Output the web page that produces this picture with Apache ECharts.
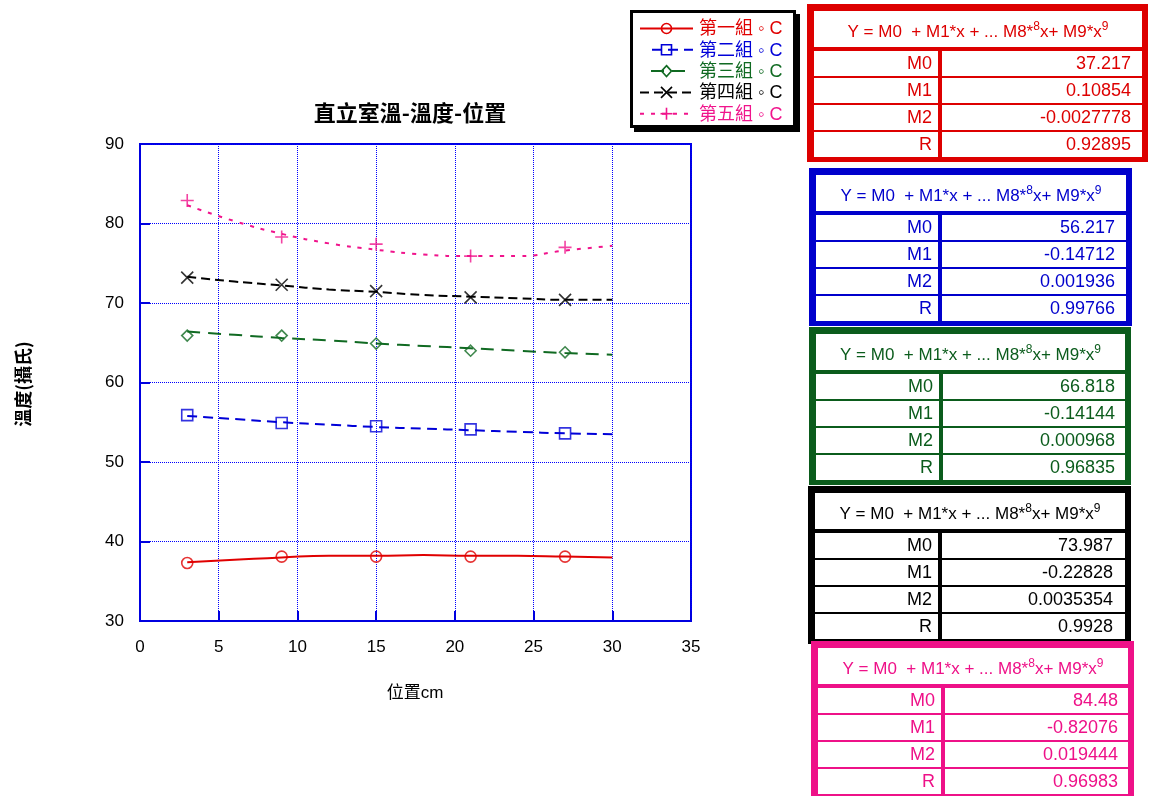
<!DOCTYPE html>
<html>
<head>
<meta charset="utf-8">
<script src="https://cdn.jsdelivr.net/npm/echarts@6/dist/echarts.min.js"></script>
<style>
  html, body { margin: 0; padding: 0; background: #fff; }
  #chart { width: 1152px; height: 796px; }
</style>
</head>
<body>
<div id="chart"></div>
<script>
// ---- data ----
const groupNames = ['第一組', '第二組', '第三組', '第四組', '第五組'];
const sampleX = [3, 9, 15, 21, 27];              // measuring positions (cm)
const g1Measured = [37.3, 38.1, 38.1, 38.1, 38.1];
const g2Measured = [55.9, 54.9, 54.5, 54.1, 53.6];
const g3Measured = [65.9, 65.9, 64.9, 64.0, 63.8];
const g4Measured = [73.2, 72.3, 71.5, 70.7, 70.4];
const g5Measured = [82.9, 78.3, 77.4, 75.9, 77.0];

// fitted curves
const fitX = [3, 6, 9, 12, 15, 18, 21, 24, 27, 30];
const g1Fit = [37.4, 37.7, 38.0, 38.2, 38.2, 38.3, 38.2, 38.2, 38.1, 38.0];
const g2Fit = [55.8, 55.4, 55.0, 54.7, 54.4, 54.2, 54.0, 53.8, 53.6, 53.5];
const g3Fit = [66.4, 66.0, 65.6, 65.3, 64.9, 64.6, 64.3, 64.0, 63.7, 63.5];
const g4Fit = [73.3, 72.7, 72.2, 71.7, 71.4, 71.0, 70.8, 70.6, 70.4, 70.4];
const g5Fit = [82.3, 80.3, 78.7, 77.5, 76.7, 76.1, 75.9, 75.9, 76.6, 77.2];

// regression coefficients
const coefLabels = ['M0', 'M1', 'M2', 'R'];
const g1Coef = ['37.217', '0.10854', '-0.0027778', '0.92895'];
const g2Coef = ['56.217', '-0.14712', '0.001936', '0.99766'];
const g3Coef = ['66.818', '-0.14144', '0.000968', '0.96835'];
const g4Coef = ['73.987', '-0.22828', '0.0035354', '0.9928'];
const g5Coef = ['84.48', '-0.82076', '0.019444', '0.96983'];

const xTicks = { min: 0, max: 35, step: 5 };
const yTicks = { min: 30, max: 90, step: 10 };

// ---- styles ----
const FONT = "'Liberation Sans', Arial, 'Noto Sans CJK TC', sans-serif";
const CJK = "'Noto Sans CJK TC', 'Noto Sans CJK SC', sans-serif";
const AXIS_BLUE = '#0000e0';
const GRID_BLUE = '#0000ff';

const measured = [g1Measured, g2Measured, g3Measured, g4Measured, g5Measured];
const fits = [g1Fit, g2Fit, g3Fit, g4Fit, g5Fit];
const coefs = [g1Coef, g2Coef, g3Coef, g4Coef, g5Coef];

const styles = [
  { color: '#e00000', dash: 'solid', width: 2, symbol: 'circle', size: 11 },
  { color: '#0000d8', dash: [10, 6], width: 2, symbol: 'rect', size: 11 },
  { color: '#106a22', dash: [13, 8], width: 2, symbol: 'diamond', size: 11 },
  { color: '#000000', dash: [9, 5], width: 2, symbol: 'path://M0,0L10,10M10,0L0,10', size: 12 },
  { color: '#f0148c', dash: [4, 7], width: 2, symbol: 'path://M5,0L5,10M0,5L10,5', size: 13 }
];

const tableColors = ['#dd0000', '#0000cc', '#0b5c1c', '#000000', '#ee1188'];
const tableLayout = [
  { x: 807, y: 4,   w: 341, div: 938, valRight: 1131 },
  { x: 809, y: 168, w: 323, div: 938, valRight: 1115 },
  { x: 809, y: 327, w: 322, div: 939, valRight: 1115 },
  { x: 808, y: 486, w: 323, div: 938, valRight: 1113 },
  { x: 811, y: 641, w: 323, div: 941, valRight: 1118 }
];

// ---- series ----
const series = [];
groupNames.forEach((name, i) => {
  const s = styles[i];
  series.push({
    name: name,
    type: 'line',
    smooth: true,
    symbol: 'none',
    silent: true,
    z: 2,
    data: fitX.map((x, k) => [x, fits[i][k]]),
    lineStyle: { color: s.color, width: s.width, type: s.dash }
  });
  series.push({
    name: name + '量測',
    type: 'scatter',
    symbol: s.symbol,
    symbolSize: s.size,
    silent: true,
    z: 3,
    data: sampleX.map((x, k) => [x, measured[i][k]]),
    itemStyle: { color: 'none', borderColor: s.color, borderWidth: 1.6 }
  });
});

// ---- legend box ----
function segment(x1, y1, x2, y2, color) {
  return { type: 'line', shape: { x1, y1, x2, y2 }, style: { stroke: color, lineWidth: 1.6 } };
}
function legendMarker(kind, cx, cy, color) {
  const st = { fill: 'none', stroke: color, lineWidth: 1.6 };
  if (kind === 'circle') return { type: 'circle', shape: { cx, cy, r: 5 }, style: st };
  if (kind === 'rect') return { type: 'rect', shape: { x: cx - 5, y: cy - 5, width: 10, height: 10 }, style: st };
  if (kind === 'diamond') return { type: 'polygon', shape: { points: [[cx, cy - 5.5], [cx + 5, cy], [cx, cy + 5.5], [cx - 5, cy]] }, style: st };
  if (kind === 'x') return { type: 'group', children: [
    segment(cx - 5.5, cy - 5.5, cx + 5.5, cy + 5.5, color),
    segment(cx + 5.5, cy - 5.5, cx - 5.5, cy + 5.5, color)] };
  return { type: 'group', children: [
    segment(cx, cy - 6, cx, cy + 6, color),
    segment(cx - 6, cy, cx + 6, cy, color)] };
}
const markerKinds = ['circle', 'rect', 'diamond', 'x', 'plus'];
const legendStarts = [640, 652, 651, 640, 640];

const graphics = [];
graphics.push({ type: 'rect', shape: { x: 634, y: 14, width: 166, height: 118 }, style: { fill: '#000' }, z: 10 });
graphics.push({ type: 'rect', shape: { x: 631.5, y: 11.5, width: 163, height: 115 }, style: { fill: '#fff', stroke: '#000', lineWidth: 3 }, z: 11 });
groupNames.forEach((name, i) => {
  const s = styles[i];
  const cy = 28.5 + i * 21.3;
  graphics.push({
    type: 'line', z: 12,
    shape: { x1: legendStarts[i], y1: cy, x2: 693, y2: cy },
    style: { stroke: s.color, lineWidth: 2, lineDash: s.dash === 'solid' ? null : s.dash }
  });
  const m = legendMarker(markerKinds[i], 666.5, cy, s.color);
  if (m.type === 'group') m.children.forEach(ch => { ch.z = 13; });
  else m.z = 13;
  graphics.push(m);
  graphics.push({
    type: 'text', z: 13,
    style: {
      text: name + ' ◦ C', x: 699, y: cy + 1,
      fill: s.color, font: `18px ${FONT}`,
      align: 'left', verticalAlign: 'middle', textAlign: 'left', textVerticalAlign: 'middle'
    }
  });
});

// ---- coefficient tables ----
tableLayout.forEach((t, i) => {
  const c = tableColors[i];
  const innerL = t.x + 7;
  const innerR = t.x + t.w - 6;
  const z = 20 + i;
  graphics.push({ type: 'rect', z, shape: { x: t.x, y: t.y, width: t.w, height: 158 }, style: { fill: c } });
  graphics.push({ type: 'rect', z, shape: { x: innerL, y: t.y + 7, width: innerR - innerL, height: 36 }, style: { fill: '#fff' } });
  graphics.push({
    type: 'text', z,
    style: {
      text: '{a|Y = M0  + M1*x + ... M8*}{s|8}{a|x+ M9*x}{s|9}',
      x: (innerL + innerR) / 2, y: t.y + 27,
      align: 'center', verticalAlign: 'middle', textAlign: 'center', textVerticalAlign: 'middle',
      rich: {
        a: { fontSize: 17, fontFamily: FONT, fill: c, color: c, lineHeight: 20, verticalAlign: 'bottom' },
        s: { fontSize: 12, fontFamily: FONT, fill: c, color: c, lineHeight: 20, verticalAlign: 'top', padding: [0, 0, 10, 0] }
      }
    }
  });
  coefLabels.forEach((lab, r) => {
    const top = t.y + 47 + r * 27;
    graphics.push({ type: 'rect', z, shape: { x: innerL, y: top, width: t.div - innerL, height: 25 }, style: { fill: '#fff' } });
    graphics.push({ type: 'rect', z, shape: { x: t.div + 4, y: top, width: innerR - t.div - 4, height: 25 }, style: { fill: '#fff' } });
    graphics.push({
      type: 'text', z,
      style: { text: lab, x: t.div - 6, y: top + 13.5, fill: c, font: `18px ${FONT}`,
        align: 'right', verticalAlign: 'middle', textAlign: 'right', textVerticalAlign: 'middle' }
    });
    graphics.push({
      type: 'text', z,
      style: { text: coefs[i][r], x: t.valRight, y: top + 13.5, fill: c, font: `18px ${FONT}`,
        align: 'right', verticalAlign: 'middle', textAlign: 'right', textVerticalAlign: 'middle' }
    });
  });
});

// ---- titles ----
graphics.push({
  type: 'text', z: 5,
  style: { text: '直立室溫-溫度-位置', x: 410, y: 113, fill: '#000', font: `bold 22px ${CJK}`,
    align: 'center', verticalAlign: 'middle', textAlign: 'center', textVerticalAlign: 'middle' }
});
graphics.push({
  type: 'text', z: 5,
  style: { text: '位置cm', x: 415, y: 693, fill: '#000', font: `17px ${FONT}`,
    align: 'center', verticalAlign: 'middle', textAlign: 'center', textVerticalAlign: 'middle' }
});
graphics.push({
  type: 'text', z: 5, x: 23, y: 384, rotation: Math.PI / 2,
  style: { text: '溫度(攝氏)', x: 0, y: 0, fill: '#000', font: `bold 18px ${CJK}`,
    align: 'center', verticalAlign: 'middle', textAlign: 'center', textVerticalAlign: 'middle' }
});

const chart = echarts.init(document.getElementById('chart'), null, { renderer: 'canvas' });
chart.setOption({
  animation: false,
  backgroundColor: '#fff',
  grid: {
    left: 140, top: 144, width: 551, height: 477,
    show: true, borderColor: AXIS_BLUE, borderWidth: 2, backgroundColor: 'transparent'
  },
  xAxis: {
    type: 'value', min: xTicks.min, max: xTicks.max, interval: xTicks.step,
    axisLine: { show: true, onZero: false, lineStyle: { color: AXIS_BLUE, width: 2 } },
    axisTick: { show: true, inside: true, length: 10, lineStyle: { color: AXIS_BLUE, width: 2 } },
    axisLabel: { color: '#000', fontSize: 17, fontFamily: FONT, margin: 18 },
    splitLine: { show: true, lineStyle: { color: GRID_BLUE, type: 'dotted', width: 1 } }
  },
  yAxis: {
    type: 'value', min: yTicks.min, max: yTicks.max, interval: yTicks.step,
    axisLine: { show: true, onZero: false, lineStyle: { color: AXIS_BLUE, width: 2 } },
    axisTick: { show: true, inside: true, length: 10, lineStyle: { color: AXIS_BLUE, width: 2 } },
    axisLabel: { color: '#000', fontSize: 17, fontFamily: FONT, margin: 16 },
    splitLine: { show: true, lineStyle: { color: GRID_BLUE, type: 'dotted', width: 1 } }
  },
  series: series,
  graphic: graphics
});
</script>
</body>
</html>
